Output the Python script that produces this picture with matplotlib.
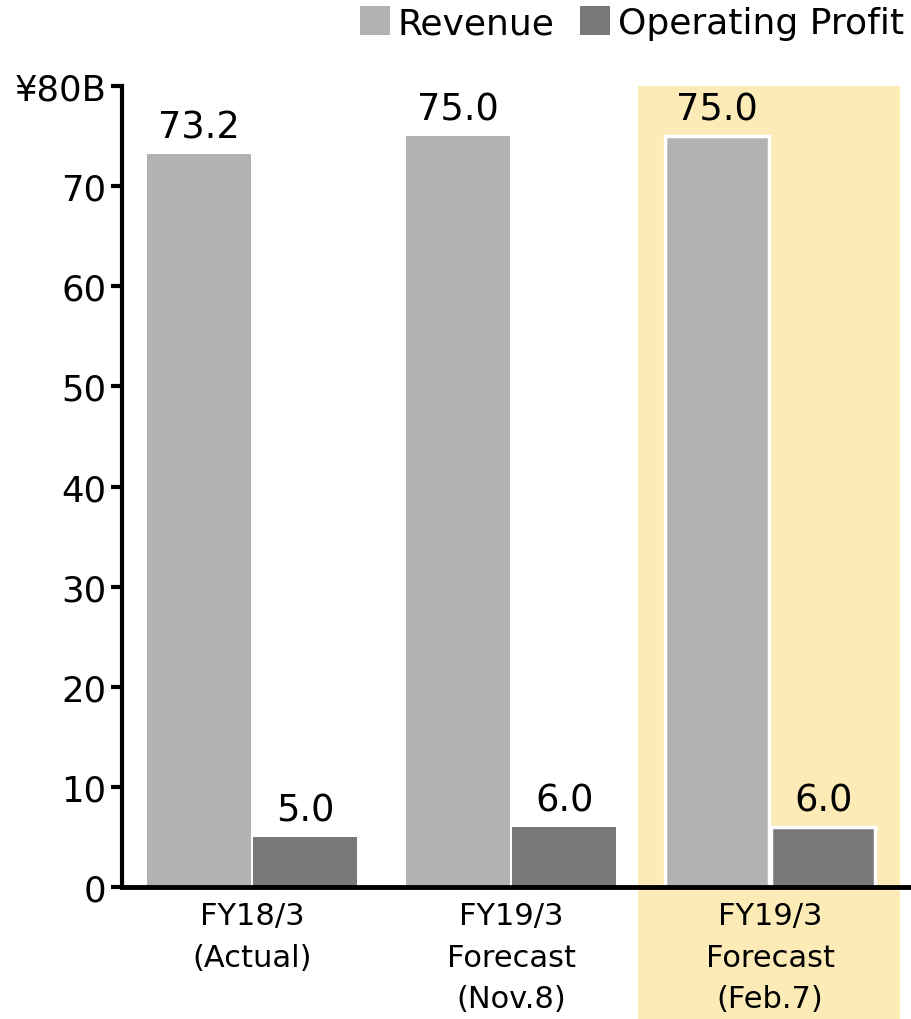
import matplotlib.pyplot as plt
import numpy as np

# Datos (miles de millones de yenes)
categories = ["FY18/3\n(Actual)", "FY19/3\nForecast\n(Nov.8)", "FY19/3\nForecast\n(Feb.7)"]
revenue = [73.2, 75.0, 75.0]
operating_profit = [5.0, 6.0, 6.0]
ytick_values = [0, 10, 20, 30, 40, 50, 60, 70, 80]
ytick_labels = ["0", "10", "20", "30", "40", "50", "60", "70", "¥80B"]

REV_COLOR = "#b2b2b2"
OP_COLOR = "#797979"
HIGHLIGHT = "#fcebb7"


def main():
    plt.rcParams['font.family'] = ['DejaVu Sans']
    fig = plt.figure(figsize=(9.11, 10.2), dpi=100)
    ax = fig.add_axes([0.1339, 0.1294, 0.8661, 0.7853])
    ax.set_facecolor('none')

    x = np.arange(len(categories))
    width = 0.40
    offset = 0.205

    # Resaltar el último pronóstico (se extiende por debajo del eje)
    ax.axvspan(1.49, 2.50, ymin=-0.2, ymax=1.0, color=HIGHLIGHT,
               clip_on=False, zorder=0, linewidth=0)

    edges = ['none', 'none', 'white']
    lws = [0, 0, 2.5]
    bars_rev = ax.bar(x - offset, revenue, width, color=REV_COLOR,
                      edgecolor=edges, linewidth=lws, label="Revenue", zorder=2)
    bars_op = ax.bar(x + offset, operating_profit, width, color=OP_COLOR,
                     edgecolor=edges, linewidth=lws, label="Operating Profit", zorder=2)

    for bars, vals in ((bars_rev, revenue), (bars_op, operating_profit)):
        for b, v in zip(bars, vals):
            ax.annotate(f"{v:.1f}", (b.get_x() + b.get_width() / 2, v),
                        xytext=(0, 6), textcoords='offset points',
                        ha='center', va='bottom', fontsize=26.5)

    ax.set_xlim(-0.502, 2.544)
    ax.set_ylim(0, 80)
    ax.set_yticks(ytick_values)
    ax.set_yticklabels(ytick_labels)
    ax.set_xticks(x)
    ax.set_xticklabels(categories, fontsize=22, linespacing=1.55)

    for side in ('top', 'right'):
        ax.spines[side].set_visible(False)
    ax.spines['left'].set_linewidth(3)
    ax.spines['bottom'].set_linewidth(3.5)
    ax.tick_params(axis='y', length=8, width=3, labelsize=25.5, pad=3)
    ax.tick_params(axis='x', length=0, pad=10)

    fig.legend(loc='upper right', bbox_to_anchor=(1.0, 1.0), ncol=2,
               frameon=False, fontsize=26, handlelength=0.85, handleheight=0.85,
               handletextpad=0.2, columnspacing=0.7, borderaxespad=0.1,
               borderpad=0.1)

    fig.savefig("out.png", dpi=100)
    plt.close(fig)


if __name__ == '__main__':
    main()
